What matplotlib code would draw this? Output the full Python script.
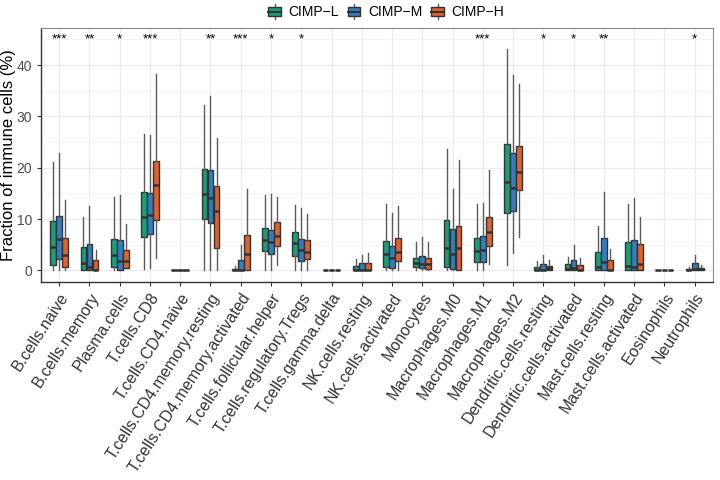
import matplotlib
matplotlib.use('Agg')
import matplotlib.pyplot as plt
from matplotlib.legend_handler import HandlerBase
from matplotlib.patches import Rectangle
from matplotlib.lines import Line2D

plt.rcParams['font.family'] = ['Liberation Sans', 'DejaVu Sans']

cells = ['B.cells.naive', 'B.cells.memory', 'Plasma.cells', 'T.cells.CD8', 'T.cells.CD4.naive',
         'T.cells.CD4.memory.resting', 'T.cells.CD4.memory.activated', 'T.cells.follicular.helper',
         'T.cells.regulatory.Tregs', 'T.cells.gamma.delta', 'NK.cells.resting', 'NK.cells.activated',
         'Monocytes', 'Macrophages.M0', 'Macrophages.M1', 'Macrophages.M2', 'Dendritic.cells.resting',
         'Dendritic.cells.activated', 'Mast.cells.resting', 'Mast.cells.activated', 'Eosinophils',
         'Neutrophils']
groups = ['CIMP\u2212L', 'CIMP\u2212M', 'CIMP\u2212H']
signif = ['***', '**', '*', '***', '', '**', '***', '*', '*', '', '', '',
          '', '', '***', '', '*', '*', '**', '', '', '*']

# CIMP-L
low_whislo = [0.1, 0, 0, 0.3, 0, 0, 0, 0, 0, 0, 0, 0, 0, 0, 0, 1.1, 0, 0, 0, 0, 0, 0]
low_q1 = [1.1, 0, 0.65, 6.6, 0, 10.0, 0, 3.7, 2.8, 0, 0, 0.7, 0.6, 0.7, 1.6, 11.2, 0, 0, 0, 0, 0, 0]
low_med = [4.6, 1.4, 3.1, 10.4, 0, 14.8, 0.05, 5.9, 5.3, 0, 0.1, 3.3, 1.5, 4.4, 3.7, 17.2, 0.1, 0.2, 0.65, 0.9, 0, 0.05]
low_q3 = [9.6, 4.6, 6.2, 15.2, 0, 19.7, 0.35, 8.2, 7.4, 0, 0.85, 5.7, 2.5, 9.9, 6.25, 24.7, 0.7, 1.2, 3.6, 5.6, 0, 0.25]
low_whishi = [21.2, 10.4, 14.4, 26.6, 0, 32.2, 0.8, 14.6, 12.7, 0, 2.3, 13.0, 5.5, 23.6, 13.0, 43.1, 1.9, 2.7, 8.7, 12.9, 0, 0.65]

# CIMP-M
mid_whislo = [0, 0, 0, 0.5, 0, 0, 0, 0, 0, 0, 0, 0, 0, 0, 0, 3.4, 0, 0, 0, 0, 0, 0]
mid_q1 = [2.2, 0, 0, 7.1, 0, 9.2, 0, 3.2, 1.8, 0, 0, 0.4, 0.4, 0.25, 1.6, 11.5, 0, 0, 0, 0, 0, 0]
mid_med = [6.2, 0.65, 1.8, 10.8, 0, 14.1, 0.1, 5.5, 4.0, 0, 0.1, 2.5, 1.2, 3.2, 3.9, 16.1, 0.1, 0.4, 1.6, 0.7, 0, 0.25]
mid_q3 = [10.6, 5.1, 6.0, 15.1, 0, 19.5, 2.1, 7.9, 6.2, 0, 1.4, 4.7, 2.9, 8.1, 6.8, 22.9, 1.2, 2.1, 6.3, 5.9, 0, 1.4]
mid_whishi = [22.9, 12.6, 14.6, 26.4, 0, 33.9, 4.9, 14.8, 12.2, 0, 3.1, 11.2, 6.5, 15.8, 13.2, 38.0, 3.1, 4.9, 15.3, 14.1, 0, 3.0]

# CIMP-H
high_whislo = [0, 0, 0.4, 2.5, 0, 0, 0, 1.0, 0, 0, 0, 0, 0, 0, 1.2, 6.5, 0, 0, 0, 0, 0, 0]
high_q1 = [0.7, 0, 0.4, 9.9, 0, 4.4, 0, 4.8, 2.3, 0, 0, 1.8, 0.25, 0.1, 4.7, 15.7, 0, 0, 0, 0, 0, 0]
high_med = [3.0, 0.1, 1.9, 16.7, 0, 11.5, 3.2, 6.8, 3.5, 0, 0.1, 3.6, 1.2, 4.4, 7.4, 19.2, 0.5, 0.1, 0.1, 1.2, 0, 0.25]
high_q3 = [6.3, 2.1, 4.0, 21.4, 0, 16.5, 6.9, 9.5, 5.9, 0, 1.4, 6.25, 2.4, 8.7, 10.5, 24.2, 0.85, 1.0, 2.0, 5.1, 0, 0.5]
high_whishi = [13.8, 4.0, 9.1, 38.2, 0, 25.8, 15.8, 14.4, 10.9, 0, 3.4, 12.6, 5.5, 21.6, 19.5, 36.3, 2.0, 2.5, 4.1, 10.5, 0, 1.0]

colors = ['#1B9E77', '#2F7FC1', '#E0622A']
edge = '#333333'
whisk = '#5a5a5a'

series = [
    (low_whislo, low_q1, low_med, low_q3, low_whishi),
    (mid_whislo, mid_q1, mid_med, mid_q3, mid_whishi),
    (high_whislo, high_q1, high_med, high_q3, high_whishi),
]
offsets = [-0.2, 0.0, 0.2]

fig = plt.figure(figsize=(7.2, 4.8), dpi=100)
ax = fig.add_axes([0.057, 0.4125, 0.933, 0.5295])

for k, (wlo, q1, med, q3, whi) in enumerate(series):
    stats = []
    for i in range(len(cells)):
        stats.append(dict(med=med[i], q1=q1[i], q3=q3[i], whislo=wlo[i], whishi=whi[i], fliers=[]))
    pos = [i + 1 + offsets[k] for i in range(len(cells))]
    ax.bxp(stats, positions=pos, widths=0.19, patch_artist=True, showcaps=False,
           showfliers=False, manage_ticks=False,
           boxprops=dict(facecolor=colors[k], edgecolor=edge, linewidth=1.0),
           medianprops=dict(color=edge, linewidth=1.8, solid_capstyle='butt'),
           whiskerprops=dict(color=whisk, linewidth=1.0))

for i, s in enumerate(signif):
    if s:
        ax.text(i + 1, 45, s, ha='center', va='center', fontsize=9.5, color='black')

ax.set_xlim(0.4, len(cells) + 0.6)
ax.set_ylim(-2.25, 47.25)
ax.set_xticks(range(1, len(cells) + 1))
ax.set_xticklabels(cells, rotation=57, ha='right', va='top', rotation_mode='anchor',
                   fontsize=11.5, color='#333333')
ax.set_yticks([0, 10, 20, 30, 40])
ax.set_yticks([5, 15, 25, 35, 45], minor=True)
ax.tick_params(axis='y', labelsize=10, labelcolor='#4d4d4d', color='#333333', length=3)
ax.tick_params(axis='x', color='#333333', length=3, pad=3)
ax.tick_params(axis='y', which='minor', length=0)
ax.grid(True, which='major', color='#EBEBEB', linewidth=0.9)
ax.grid(True, which='minor', axis='y', color='#F3F3F3', linewidth=0.6)
ax.set_axisbelow(True)
ax.set_ylabel('Fraction of immune cells (%)', fontsize=12, color='black')
ax.yaxis.set_label_coords(-0.037, 0.5)
for side in ['left', 'bottom']:
    ax.spines[side].set_color('#333333')
    ax.spines[side].set_linewidth(1.0)
for side in ['top', 'right']:
    ax.spines[side].set_color('#8a8a8a')
    ax.spines[side].set_linewidth(0.8)


class BoxKey(HandlerBase):
    def create_artists(self, legend, orig_handle, xdescent, ydescent, width, height, fontsize, trans):
        c = orig_handle.get_facecolor()
        cx = width / 2 - xdescent
        bw = width * 0.75
        r = Rectangle((cx - bw / 2, -ydescent + height * 0.15), bw, height * 0.7,
                      facecolor=c, edgecolor=edge, linewidth=1.0, transform=trans)
        m = Line2D([cx - bw / 2, cx + bw / 2], [-ydescent + height / 2] * 2, color=edge, lw=1.5, transform=trans)
        w1 = Line2D([cx, cx], [-ydescent - height * 0.15, -ydescent + height * 0.15], color=whisk, lw=1, transform=trans)
        w2 = Line2D([cx, cx], [-ydescent + height * 0.85, -ydescent + height * 1.15], color=whisk, lw=1, transform=trans)
        return [w1, w2, r, m]


handles = [Rectangle((0, 0), 1, 1, facecolor=c) for c in colors]
fig.legend(handles, groups, handler_map={Rectangle: BoxKey()}, loc='upper center',
           bbox_to_anchor=(0.535, 1.015), ncol=3, frameon=False, fontsize=10,
           handlelength=1.2, handleheight=0.9, handletextpad=0.4, columnspacing=0.5)

fig.savefig('out.png', dpi=100)
